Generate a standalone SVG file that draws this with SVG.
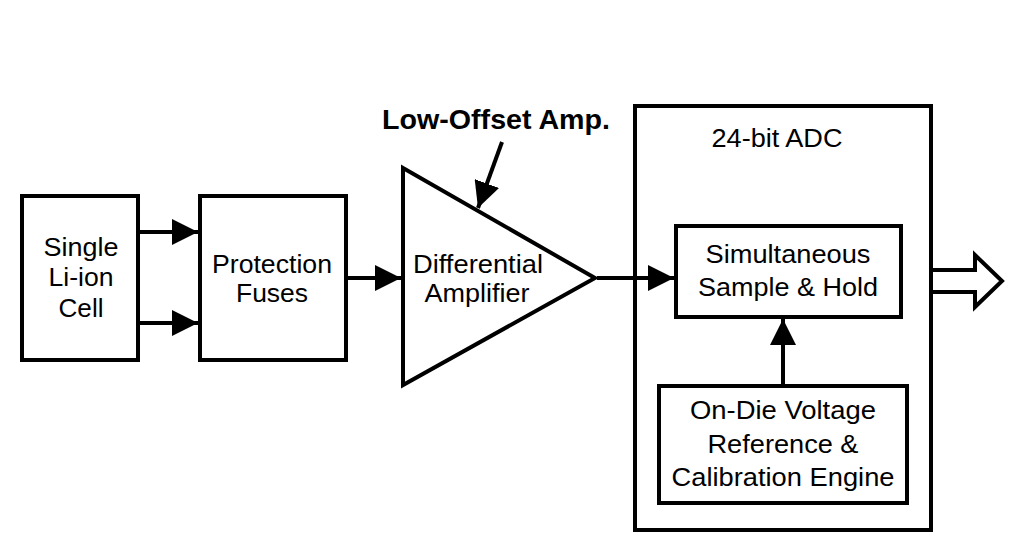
<svg xmlns="http://www.w3.org/2000/svg" width="1024" height="559" viewBox="0 0 1024 559">
<defs>
<marker id="ah" viewBox="0 0 26 26" refX="26" refY="13" markerWidth="26" markerHeight="26" markerUnits="userSpaceOnUse" orient="auto">
<path d="M0,0 L26,13 L0,26 Z" fill="#000"/>
</marker>
</defs>
<style>
.box{fill:#fff;stroke:#000;stroke-width:4}
.t{font-family:"Liberation Sans",Arial,sans-serif;font-size:26.5px;fill:#000;text-anchor:middle}
.b{font-weight:bold;font-size:27px}
.c{stroke:#000;stroke-width:4;fill:none}
</style>
<rect width="1024" height="559" fill="#fff"/>
<g id="adc">
<rect class="box" x="635" y="106" width="296" height="424"/>
<text class="t" x="777" y="147" textLength="131" lengthAdjust="spacingAndGlyphs">24-bit ADC</text>
</g>
<g id="cell">
<rect class="box" x="22" y="196" width="116" height="164"/>
<text class="t" x="81" y="256" textLength="75" lengthAdjust="spacingAndGlyphs">Single</text>
<text class="t" x="81" y="286" textLength="65" lengthAdjust="spacingAndGlyphs">Li-ion</text>
<text class="t" x="81" y="317" textLength="45" lengthAdjust="spacingAndGlyphs">Cell</text>
</g>
<g id="fuses">
<rect class="box" x="200" y="196" width="146" height="164"/>
<text class="t" x="272" y="273" textLength="120" lengthAdjust="spacingAndGlyphs">Protection</text>
<text class="t" x="272" y="302" textLength="72" lengthAdjust="spacingAndGlyphs">Fuses</text>
</g>
<g id="amp">
<path class="box" d="M403,168 L595,278 L403,385 Z" stroke-linejoin="miter"/>
<text class="t" x="478" y="273" textLength="130" lengthAdjust="spacingAndGlyphs">Differential</text>
<text class="t" x="477" y="302" textLength="105" lengthAdjust="spacingAndGlyphs">Amplifier</text>
</g>
<g id="label">
<text class="t b" x="496" y="129" textLength="228" lengthAdjust="spacingAndGlyphs">Low-Offset Amp.</text>
</g>
<g id="sh">
<rect class="box" x="676" y="226" width="225" height="91"/>
<text class="t" x="788" y="263" textLength="165" lengthAdjust="spacingAndGlyphs">Simultaneous</text>
<text class="t" x="788" y="296" textLength="180" lengthAdjust="spacingAndGlyphs">Sample &amp; Hold</text>
</g>
<g id="cal">
<rect class="box" x="659" y="386" width="248" height="117"/>
<text class="t" x="783" y="419" textLength="186" lengthAdjust="spacingAndGlyphs">On-Die Voltage</text>
<text class="t" x="783" y="453" textLength="151" lengthAdjust="spacingAndGlyphs">Reference &amp;</text>
<text class="t" x="783" y="486" textLength="223" lengthAdjust="spacingAndGlyphs">Calibration Engine</text>
</g>
<g id="connectors">
<line class="c" x1="140" y1="232" x2="198" y2="232" marker-end="url(#ah)"/>
<line class="c" x1="140" y1="323" x2="198" y2="323" marker-end="url(#ah)"/>
<line class="c" x1="348" y1="278" x2="401" y2="278" marker-end="url(#ah)"/>
<line class="c" x1="597" y1="278" x2="674" y2="278" marker-end="url(#ah)"/>
<line class="c" x1="783" y1="384" x2="783" y2="319" marker-end="url(#ah)"/>
<line class="c" x1="502" y1="142" x2="478" y2="208" marker-end="url(#ah)"/>
<path class="c" d="M933,270 L975,270 L975,255 L1002,281 L975,307 L975,292 L933,292" stroke-linejoin="miter" fill="#fff"/>
</g>
</svg>
